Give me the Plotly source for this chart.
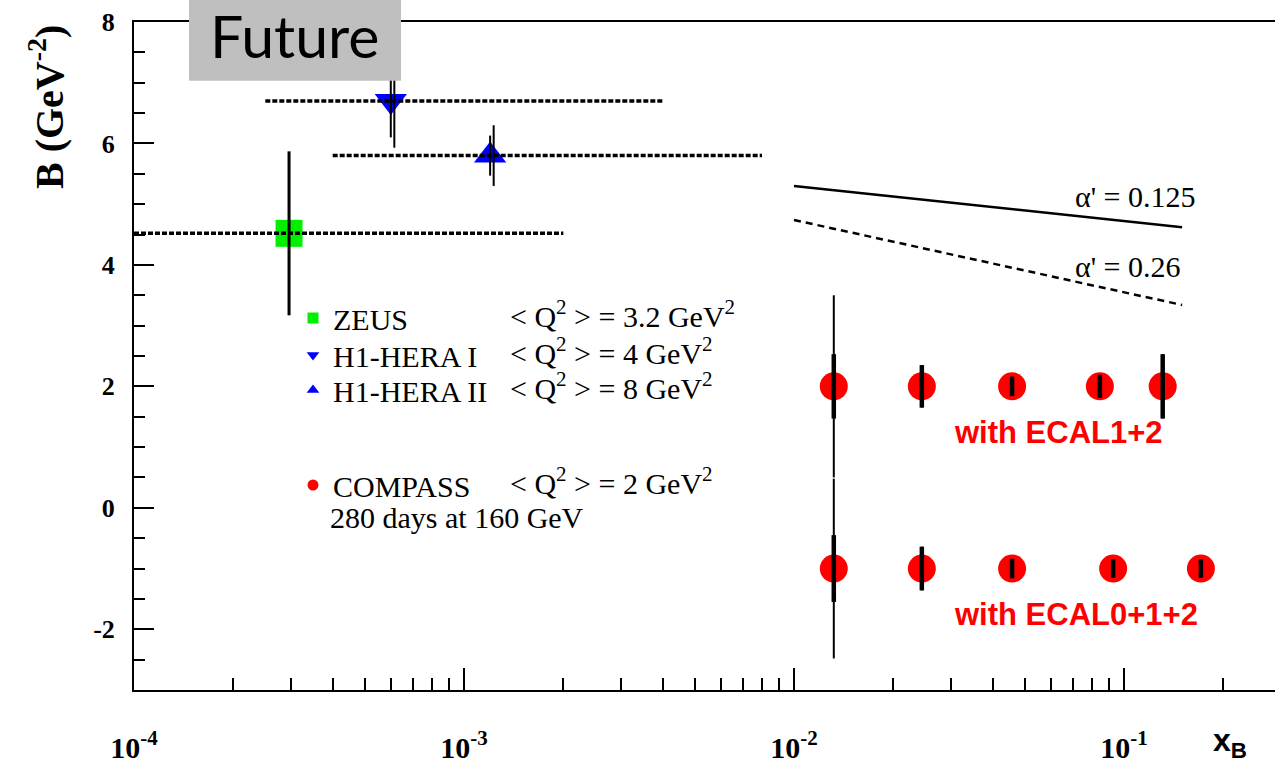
import plotly.graph_objects as go

# ---- measurements (x_B, slope B in GeV^-2) ----
zeus_x = [2.95e-4]
zeus_b = [4.52]
zeus_err = [1.35]
zeus_xrange = [1.0e-4, 2.0e-3]

h1a_x = [6.0e-4]
h1a_b = [6.7]
h1a_err_stat = [0.6]
h1a_x_tot = [6.15e-4]
h1a_err_tot = [0.77]
h1a_xrange = [2.5e-4, 4.0e-3]

h1b_x = [1.2e-3]
h1b_b = [5.8]
h1b_err_stat = [0.33]
h1b_x_tot = [1.23e-3]
h1b_err_tot = [0.5]
h1b_xrange = [4.0e-4, 8.0e-3]

# COMPASS projections
c12_x = [0.0132, 0.0244, 0.0458, 0.0845, 0.131]
c12_b = [2.0, 2.0, 2.0, 2.0, 2.0]
c12_err_stat = [0.53, 0.35, 0.16, 0.19, 0.53]
c12_err_tot = [1.5, 0.35, 0.16, 0.19, 0.53]

c012_x = [0.0132, 0.0244, 0.0458, 0.0927, 0.171]
c012_b = [-1.0, -1.0, -1.0, -1.0, -1.0]
c012_err_stat = [0.55, 0.36, 0.16, 0.15, 0.15]
c012_err_tot = [1.48, 0.36, 0.16, 0.15, 0.15]

# Regge slope curves
regge_x = [0.01, 0.15]
regge_b_0125 = [5.30, 4.62]
regge_b_026 = [4.74, 3.34]

# axes
xtick_vals = [1e-4, 1e-3, 1e-2, 1e-1]
xtick_text = ["10<sup>-4</sup>", "10<sup>-3</sup>", "10<sup>-2</sup>", "10<sup>-1</sup>"]
ytick_vals = [-2, 0, 2, 4, 6, 8]
ytick_text = ["-2", "0", "2", "4", "6", "8"]

SERIF = "Liberation Serif"
SANS = "Liberation Sans"
GREEN = "#00f000"
BLUE = "#0000ff"
RED = "#ff0000"

fig = go.Figure()

# markers
fig.add_trace(go.Scatter(x=zeus_x, y=zeus_b, mode="markers", showlegend=False,
                         marker=dict(symbol="square", size=27, color=GREEN)))
fig.add_trace(go.Scatter(x=h1a_x, y=h1a_b, mode="markers", showlegend=False,
                         marker=dict(symbol="triangle-down", size=28, color=BLUE)))
fig.add_trace(go.Scatter(x=h1b_x, y=h1b_b, mode="markers", showlegend=False,
                         marker=dict(symbol="triangle-up", size=28, color=BLUE)))
fig.add_trace(go.Scatter(x=c12_x, y=c12_b, mode="markers", showlegend=False,
                         marker=dict(symbol="circle", size=28, color=RED)))
fig.add_trace(go.Scatter(x=c012_x, y=c012_b, mode="markers", showlegend=False,
                         marker=dict(symbol="circle", size=28, color=RED)))


def bars(x, y, err, width):
    return go.Scatter(x=x, y=y, mode="markers", showlegend=False, hoverinfo="skip",
                      marker=dict(size=1, opacity=0),
                      error_y=dict(type="data", array=err, visible=True,
                                   color="black", thickness=width, width=0))


# error bars drawn over the markers
fig.add_trace(bars(zeus_x, zeus_b, zeus_err, 3))
fig.add_trace(bars(h1a_x, h1a_b, h1a_err_stat, 2))
fig.add_trace(bars(h1a_x_tot, h1a_b, h1a_err_tot, 2))
fig.add_trace(bars(h1b_x, h1b_b, h1b_err_stat, 2))
fig.add_trace(bars(h1b_x_tot, h1b_b, h1b_err_tot, 2))
fig.add_trace(bars(c12_x, c12_b, c12_err_tot, 2))
fig.add_trace(bars(c12_x, c12_b, c12_err_stat, 4.5))
fig.add_trace(bars(c012_x, c012_b, c012_err_tot, 2))
fig.add_trace(bars(c012_x, c012_b, c012_err_stat, 4.5))

# x_B coverage of each HERA measurement
dot = dict(color="black", width=3.5, dash="5px,2px")
for xr, b in [(zeus_xrange, zeus_b[0]), (h1a_xrange, h1a_b[0]), (h1b_xrange, h1b_b[0])]:
    fig.add_trace(go.Scatter(x=xr, y=[b, b], mode="lines", line=dot,
                             showlegend=False, hoverinfo="skip"))

# Regge predictions
fig.add_trace(go.Scatter(x=regge_x, y=regge_b_0125, mode="lines", showlegend=False,
                         line=dict(color="black", width=2.5)))
fig.add_trace(go.Scatter(x=regge_x, y=regge_b_026, mode="lines", showlegend=False,
                         line=dict(color="black", width=2.5, dash="7px,5px")))

# legend keys
fig.add_trace(go.Scatter(x=[None], y=[None], mode="markers", name="ZEUS", legend="legend",
                         marker=dict(symbol="square", size=11, color=GREEN)))
fig.add_trace(go.Scatter(x=[None], y=[None], mode="markers", name="H1-HERA I", legend="legend2",
                         marker=dict(symbol="triangle-down", size=11, color=BLUE)))
fig.add_trace(go.Scatter(x=[None], y=[None], mode="markers", name="H1-HERA II", legend="legend3",
                         marker=dict(symbol="triangle-up", size=11, color=BLUE)))
fig.add_trace(go.Scatter(x=[None], y=[None], mode="markers", name="COMPASS", legend="legend4",
                         marker=dict(symbol="circle", size=11, color=RED)))

L0, W, B0, H = 134, 1141, 690, 668


def px(x):
    return (x - L0) / W


def py(y):
    return (B0 - y) / H


def leg(y):
    return dict(x=px(293), y=py(y), xanchor="left", yanchor="middle",
                bgcolor="rgba(0,0,0,0)", borderwidth=0,
                font=dict(family=SERIF, size=30, color="black"))


annotations = []


def note(text, x, y, size, family=SERIF, color="black", xanchor="left", weight="normal", angle=0):
    annotations.append(dict(text=text, x=px(x), y=py(y), xref="paper", yref="paper",
                            xanchor=xanchor, yanchor="middle", showarrow=False,
                            textangle=angle,
                            font=dict(family=family, size=size, color=color, weight=weight)))


note("&lt; Q<sup>2</sup> &gt; = 3.2 GeV<sup>2</sup>", 508, 314, 30)
note("&lt; Q<sup>2</sup> &gt; = 4 GeV<sup>2</sup>", 508, 351, 30)
note("&lt; Q<sup>2</sup> &gt; = 8 GeV<sup>2</sup>", 508, 386, 30)
note("&lt; Q<sup>2</sup> &gt; = 2 GeV<sup>2</sup>", 508, 481, 30)
note("280 days at 160 GeV", 328, 517, 30)
note("α' = 0.125", 1073, 196, 30)
note("α' = 0.26", 1073, 266, 30)
note("with ECAL1+2", 952, 432, 31, family=SANS, color=RED, weight="bold")
note("with ECAL0+1+2", 952, 614, 31, family=SANS, color=RED, weight="bold")
note("x<sub>B</sub>", 1230, 742, 32, family=SANS, xanchor="center", weight="bold")
note("B (GeV<sup>-2</sup>)", 47, 107, 40, xanchor="center", weight="bold", angle=-90)
note("Future", 295, 35, 59, family="Lato", xanchor="center")

fig.update_layout(
    width=1275, height=765,
    margin=dict(l=134, r=0, t=22, b=75),
    paper_bgcolor="white", plot_bgcolor="white",
    legend=leg(318), legend2=leg(355), legend3=leg(390), legend4=leg(485),
    annotations=annotations,
    shapes=[dict(type="rect", xref="paper", yref="paper", layer="above",
                 x0=px(189), x1=px(401), y0=py(80.7), y1=py(-5),
                 fillcolor="#bfbfbf", line=dict(width=0))],
)

fig.update_xaxes(
    type="log", range=[-4, -4 + W / 330.0],
    tickmode="array", tickvals=xtick_vals, ticktext=xtick_text,
    ticks="inside", ticklen=22, tickwidth=2, tickcolor="black",
    showline=True, linewidth=2, linecolor="black", mirror=True,
    showgrid=False, zeroline=False,
    tickfont=dict(family=SERIF, size=30, color="black", weight="bold"),
    ticklabelstandoff=30,
    minor=dict(ticks="inside", ticklen=12, tickwidth=2, tickcolor="black",
               dtick="D1", showgrid=False),
)
fig.update_yaxes(
    range=[-3, 8],
    tickmode="array", tickvals=ytick_vals, ticktext=ytick_text,
    ticks="inside", ticklen=20, tickwidth=2, tickcolor="black",
    showline=True, linewidth=2, linecolor="black", mirror=False,
    showgrid=False, zeroline=False,
    tickfont=dict(family=SERIF, size=26, color="black", weight="bold"),
    ticklabelstandoff=12,
    minor=dict(ticks="inside", ticklen=11, tickwidth=2, tickcolor="black",
               dtick=0.5, showgrid=False),
)

fig.write_html("out.html")
